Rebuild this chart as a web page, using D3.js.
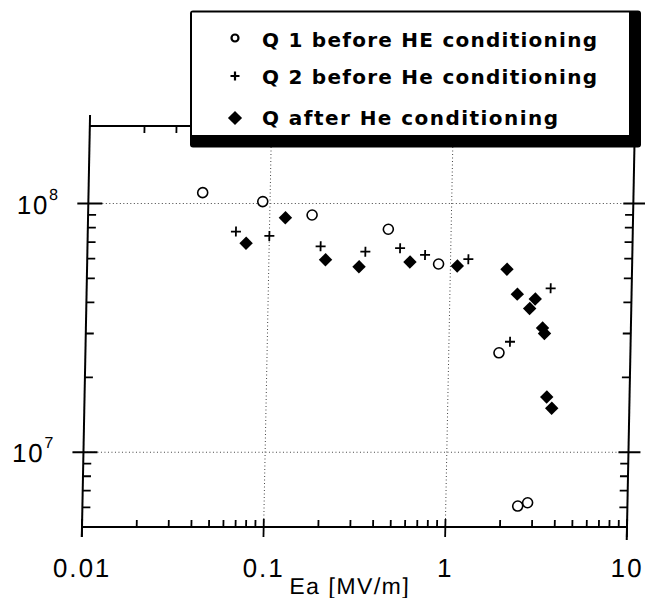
<!DOCTYPE html>
<html>
<head>
<meta charset="utf-8">
<script src="https://cdn.jsdelivr.net/npm/d3@7"></script>
<style>
  body { margin: 0; background: #fff; }
  text { font-family: "Liberation Sans", Arial, Helvetica, sans-serif; fill: #000; }
</style>
</head>
<body>
<svg id="chart" width="645" height="598"></svg>
<script>
// values: Ea in MV/m, Q unitless
const q1Ea = [0.0425, 0.0912, 0.171, 0.451, 0.86, 1.89, 2.49, 2.82];
const q1Q = [1.106e8, 1.018e8, 8.99e7, 7.88e7, 5.71e7, 2.51e7, 6.07e6, 6.26e6];

const q2Ea = [0.0654, 0.1, 0.192, 0.339, 0.526, 0.723, 1.253, 2.168, 3.582];
const q2Q = [7.71e7, 7.41e7, 6.73e7, 6.40e7, 6.61e7, 6.21e7, 5.97e7, 2.78e7, 4.56e7];

const q3Ea = [0.0746, 0.122, 0.205, 0.314, 0.598, 1.091, 2.05, 2.351, 2.954, 2.759, 3.262, 3.35, 3.501, 3.74];
const q3Q = [6.92e7, 8.77e7, 5.94e7, 5.57e7, 5.82e7, 5.61e7, 5.44e7, 4.32e7, 4.13e7, 3.78e7, 3.16e7, 3.00e7, 1.667e7, 1.502e7];

const legendLabels = ["Q 1 before HE conditioning", "Q 2 before He conditioning", "Q after He conditioning"];
const xTicks = [0.01, 0.1, 1, 10];
const xTickLabels = ["0.01", "0.1", "1", "10"];
const yTicks = [1e7, 1e8];
const yTickExps = ["7", "8"];
const xTitle = "Ea [MV/m]";

const x = d3.scaleLog().domain([0.01, 10]).range([82, 627]);
const y = d3.scaleLog().domain([5e6, 2.05e8]).range([527, 126]);
const [x0, x1] = x.range();
const [yB, yT] = y.range();

const svg = d3.select("#chart");

// the scan leans a little, so the plot gets a small skew
const g = svg.append("g")
  .attr("transform", `translate(0,${yB}) skewX(-1.12) translate(0,${-yB})`);

// minor tick positions, 2..9 in each decade
const minorX = [];
xTicks.slice(0, -1).forEach(d => { for (let k = 2; k <= 9; k++) minorX.push(d * k); });
const minorY = [];
[1e6, 1e7].forEach(d => { for (let k = 2; k <= 9; k++) if (d * k > 5e6) minorY.push(d * k); });

// dotted grid
g.selectAll(".gridx").data(xTicks.slice(1, -1)).enter().append("line")
  .attr("x1", d => x(d)).attr("x2", d => x(d))
  .attr("y1", yT).attr("y2", yB)
  .attr("stroke", "#444").attr("stroke-width", 1).attr("stroke-dasharray", "1,2.5");

g.selectAll(".gridy").data(yTicks).enter().append("line")
  .attr("x1", x0).attr("x2", x1)
  .attr("y1", d => y(d)).attr("y2", d => y(d))
  .attr("stroke", "#444").attr("stroke-width", 1).attr("stroke-dasharray", "1,2.5");

// frame
const frame = [
  [x0, yT - 11, x0, yB + 10],
  [x1, yT, x1, yB + 13],
  [x0, yB, x1, yB],
  [x0, yT, x1, yT]
];
g.selectAll(".frame").data(frame).enter().append("line")
  .attr("x1", d => d[0]).attr("y1", d => d[1])
  .attr("x2", d => d[2]).attr("y2", d => d[3])
  .attr("stroke", "#000").attr("stroke-width", 2);

// ticks
const tick = (arr, f) => g.append("g").selectAll("line").data(arr).enter().append("line")
  .each(function (d) {
    const [a, b, c, e] = f(d);
    d3.select(this).attr("x1", a).attr("y1", b).attr("x2", c).attr("y2", e);
  })
  .attr("stroke", "#000").attr("stroke-width", 1.8);

// minor ones point in
tick(minorX, d => [x(d), yB, x(d), yB - 7]);
tick(minorX, d => [x(d), yT, x(d), yT + 7]);
tick(minorY, d => [x0, y(d), x0 + 8, y(d)]);
tick(minorY, d => [x1, y(d), x1 - 8, y(d)]);

// major ones cross the frame
tick(xTicks, d => [x(d), yB - 8, x(d), yB + 10]);
tick(yTicks, d => [x0 - 11, y(d), x0 + 14, y(d)]).attr("stroke-width", 2);
tick(yTicks, d => [x1 - 10, y(d), x1 + 12, y(d)]).attr("stroke-width", 2);

// tick labels
g.selectAll(".xlab").data(xTicks).enter().append("text")
  .attr("x", d => x(d) + 1).attr("y", yB + 50)
  .attr("text-anchor", "middle")
  .style("font-size", "26px").style("letter-spacing", "2px")
  .text((d, i) => xTickLabels[i]);

const ylab = g.selectAll(".ylab").data(yTicks).enter().append("text")
  .attr("x", 53).attr("y", d => y(d) + 10)
  .attr("text-anchor", "end")
  .style("font-size", "26px").style("letter-spacing", "1.5px");
ylab.append("tspan").text("10");
ylab.append("tspan").attr("dy", -14).style("font-size", "16px").text((d, i) => yTickExps[i]);

g.append("text")
  .attr("x", 351).attr("y", 594)
  .attr("text-anchor", "middle")
  .style("font-size", "23px").style("letter-spacing", "1.5px")
  .text(xTitle);

// data
const pts = (xs, ys) => xs.map((v, i) => [v, ys[i]]);
const diamond = d3.symbol().type(d3.symbolSquare).size(90);

g.selectAll(".s3").data(pts(q3Ea, q3Q)).enter().append("path")
  .attr("d", diamond)
  .attr("transform", d => `translate(${x(d[0])},${y(d[1])}) rotate(45)`)
  .attr("fill", "#000");

g.selectAll(".s2").data(pts(q2Ea, q2Q)).enter().append("path")
  .attr("d", "M-5,0H5M0,-5V5")
  .attr("transform", d => `translate(${x(d[0])},${y(d[1])})`)
  .attr("stroke", "#000").attr("stroke-width", 1.8);

g.selectAll(".s1").data(pts(q1Ea, q1Q)).enter().append("circle")
  .attr("cx", d => x(d[0])).attr("cy", d => y(d[1]))
  .attr("r", 5)
  .attr("fill", "#fff").attr("stroke", "#000").attr("stroke-width", 1.6);

// legend box with heavy shadow on right and bottom
const lg = svg.append("g");
lg.append("rect").attr("x", 190).attr("y", 10.5).attr("width", 451).attr("height", 137)
  .attr("rx", 3).attr("fill", "#000");
lg.append("rect").attr("x", 192).attr("y", 12.5).attr("width", 437).attr("height", 122.5)
  .attr("fill", "#fff");

const rowsY = [47, 84, 125];
const rowsLen = [335, 335, 296];
lg.selectAll(".lt").data(legendLabels).enter().append("text")
  .attr("x", 262).attr("y", (d, i) => rowsY[i])
  .attr("textLength", (d, i) => rowsLen[i])
  .attr("lengthAdjust", "spacing")
  .style("font-family", "'DejaVu Sans', sans-serif")
  .style("font-size", "20px").style("font-weight", "bold")
  .text(d => d);

lg.append("circle").attr("cx", 235).attr("cy", rowsY[0] - 9).attr("r", 3.5)
  .attr("fill", "#fff").attr("stroke", "#000").attr("stroke-width", 2.2);
lg.append("path").attr("d", "M-4.5,0H4.5M0,-4.5V4.5")
  .attr("transform", `translate(235,${rowsY[1] - 8})`)
  .attr("stroke", "#000").attr("stroke-width", 2.2);
lg.append("path").attr("d", diamond.size(100))
  .attr("transform", `translate(235,${rowsY[2] - 7}) rotate(45)`)
  .attr("fill", "#000");
</script>
</body>
</html>
